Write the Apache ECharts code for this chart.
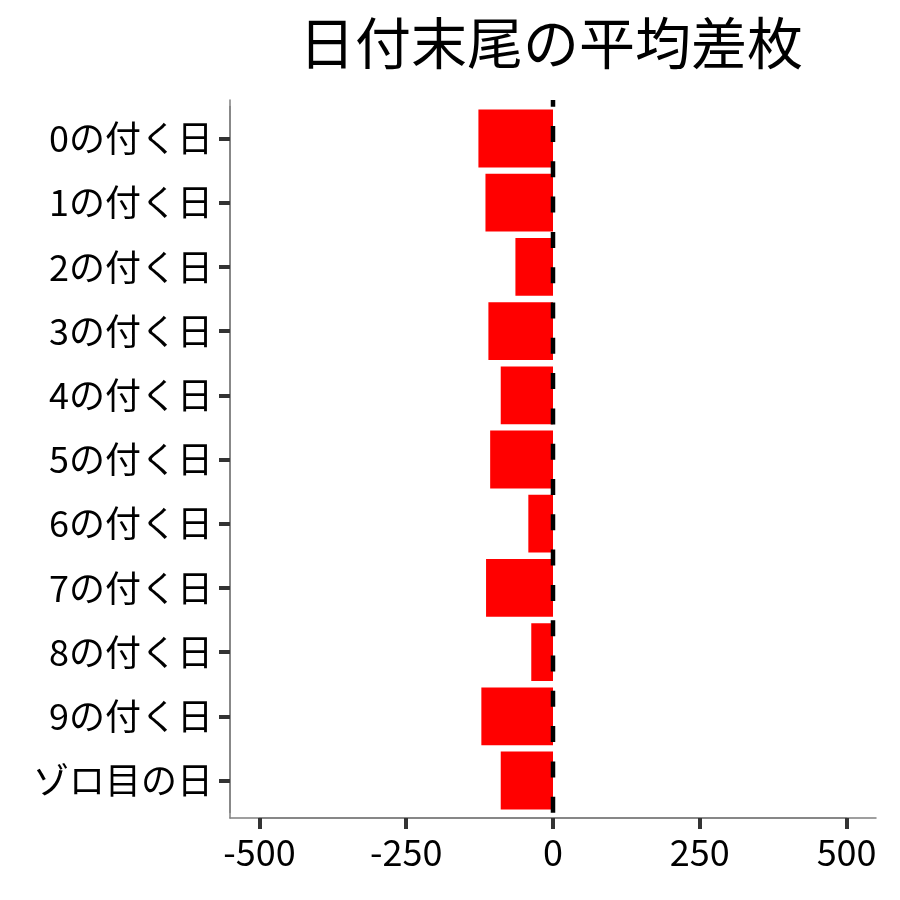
<!DOCTYPE html>
<html><head><meta charset="utf-8">
<script src="https://cdn.jsdelivr.net/npm/echarts@6/dist/echarts.min.js"></script>
<style>html,body{margin:0;padding:0;background:#fff}#c{width:900px;height:900px}</style>
</head><body><div id="c"></div>
<script>
const categories = ['0の付く日','1の付く日','2の付く日','3の付く日','4の付く日','5の付く日','6の付く日','7の付く日','8の付く日','9の付く日','ゾロ目の日'];
const avgDiff = [-127, -115, -64, -110, -89, -107, -42, -114, -37, -122, -89];
const xTickMin = -500, xTickMax = 500, xTickStep = 250;
const refLine = [[0, 0], [0, 1]];

const FONT = '"Noto Sans CJK JP", "Noto Sans", sans-serif';
const AXIS_GREY = '#808080';
const TICK = {show: true, length: 11, lineStyle: {color: '#333333', width: 4, opacity: 1}};
const chart = echarts.init(document.getElementById('c'), null, {renderer: 'canvas'});
chart.setOption({
  backgroundColor: '#fff',
  animation: false,
  title: {
    text: '日付末尾の平均差枚',
    left: 546, top: 10, textAlign: 'center',
    textStyle: {fontFamily: FONT, fontSize: 56, fontWeight: 'normal', color: '#000'}
  },
  grid: [
    {left: 230, right: 24, top: 106.4, bottom: 87.4},
    {left: 230, right: 24, top: 100, bottom: 82},
    {left: 259.4, right: 53.4, top: 100, bottom: 82}
  ],
  xAxis: [
    {gridIndex: 0, type: 'value', min: -550, max: 550, show: false, splitLine: {show: false}},
    {gridIndex: 1, type: 'value', min: -550, max: 550,
      axisLine: {show: true, onZero: false, lineStyle: {color: AXIS_GREY, width: 1.5}},
      axisTick: {show: false}, axisLabel: {show: false}, splitLine: {show: false}},
    {gridIndex: 2, type: 'value', min: xTickMin, max: xTickMax, interval: xTickStep,
      axisLine: {show: true, onZero: false, lineStyle: {color: AXIS_GREY, width: 1.5}},
      axisTick: TICK,
      axisLabel: {show: true, margin: 16, fontFamily: FONT, fontSize: 36, color: '#000', showMinLabel: true, showMaxLabel: true},
      splitLine: {show: false}}
  ],
  yAxis: [
    {gridIndex: 0, type: 'category', data: categories, inverse: true,
      axisLine: {show: true, onZero: false, lineStyle: {color: AXIS_GREY, width: 1.5}},
      axisTick: Object.assign({alignWithLabel: true}, TICK),
      axisLabel: {margin: 17, fontFamily: FONT, fontSize: 36, color: '#000'},
      splitLine: {show: false}},
    {gridIndex: 1, type: 'value', min: 0, max: 1,
      axisLine: {show: true, onZero: false, lineStyle: {color: AXIS_GREY, width: 1.5}},
      axisTick: {show: false}, axisLabel: {show: false}, splitLine: {show: false}},
    {gridIndex: 2, type: 'value', min: 0, max: 1, show: false}
  ],
  series: [
    {type: 'bar', xAxisIndex: 0, yAxisIndex: 0, data: avgDiff, barWidth: '90%',
      itemStyle: {color: '#ff0000'}, z: 2},
    {type: 'line', xAxisIndex: 1, yAxisIndex: 1, data: refLine, symbol: 'none',
      lineStyle: {color: '#000', width: 4.5, type: [16, 19.3], dashOffset: 30}, z: 5}
  ]
});
</script></body></html>
